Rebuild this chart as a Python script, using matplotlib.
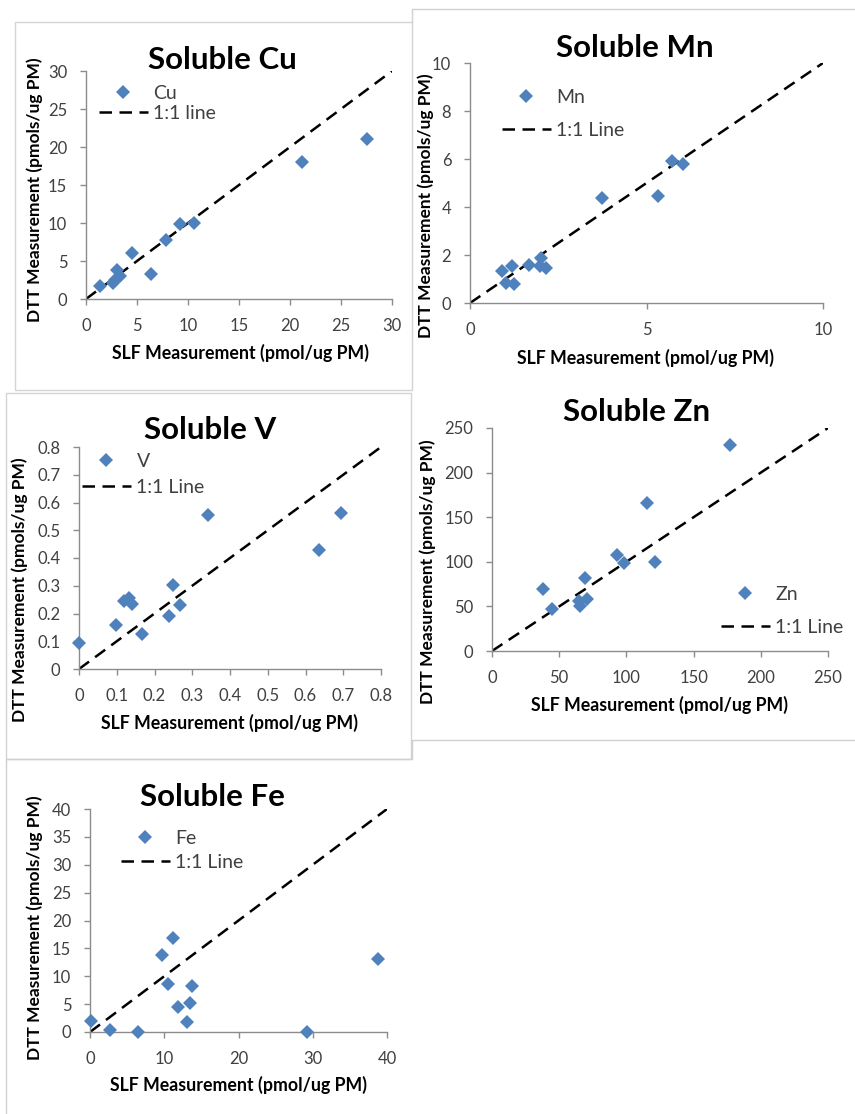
import numpy as np
import matplotlib
matplotlib.use('Agg')
import matplotlib.pyplot as plt
from matplotlib.patches import Rectangle
from matplotlib.lines import Line2D

plt.rcParams['font.family'] = ['Lato', 'DejaVu Sans']

W, H = 855, 1114

# --- data ---
cu_x = [1.4, 2.6, 2.8, 3.0, 3.3, 4.5, 6.4, 7.8, 9.2, 10.6, 21.2, 27.5]
cu_y = [1.75, 2.1, 2.5, 3.8, 3.0, 6.0, 3.3, 7.8, 9.9, 10.0, 18.0, 21.0]

mn_x = [0.92, 1.03, 1.2, 1.24, 1.67, 2.0, 1.98, 2.15, 3.75, 5.32, 5.72, 6.03]
mn_y = [1.35, 0.83, 1.53, 0.79, 1.6, 1.88, 1.53, 1.46, 4.36, 4.44, 5.93, 5.79]

v_x = [0.0, 0.097, 0.12, 0.132, 0.141, 0.166, 0.239, 0.25, 0.268, 0.343, 0.637, 0.693]
v_y = [0.093, 0.157, 0.245, 0.255, 0.234, 0.127, 0.19, 0.303, 0.229, 0.554, 0.429, 0.563]

zn_x = [37.9, 44.6, 64.4, 65.6, 69.3, 70.5, 92.8, 98.5, 115, 121, 177]
zn_y = [70, 47.6, 55.8, 50.6, 82, 58.8, 107.6, 98.2, 166, 100, 230.5]

fe_x = [0.13, 2.7, 6.5, 9.7, 10.5, 11.2, 11.8, 13.1, 13.45, 13.7, 29.2, 38.8]
fe_y = [1.98, 0.3, 0.0, 13.8, 8.6, 16.8, 4.4, 1.8, 5.2, 8.3, 0.0, 13.05]

titles = ['Soluble Cu', 'Soluble Mn', 'Soluble V', 'Soluble Zn', 'Soluble Fe']
series_names = ['Cu', 'Mn', 'V', 'Zn', 'Fe']
line_names = ['1:1 line', '1:1 Line', '1:1 Line', '1:1 Line', '1:1 Line']
axis_max = [30, 10, 0.8, 250, 40]
tick_step = [5, 5, 0.1, 50, 10]
ytick_step = [5, 2, 0.1, 50, 5]
xs = [cu_x, mn_x, v_x, zn_x, fe_x]
ys = [cu_y, mn_y, v_y, zn_y, fe_y]

xlabel = 'SLF Measurement (pmol/ug PM)'
ylabel = 'DTT Measurement (pmols/ug PM)'

# --- layout in pixels ---
# plot area: left, right, top, bottom
plot_box = [(86, 392, 71, 299), (470, 823, 63, 303), (79, 381, 447, 669),
            (492, 828, 428, 651), (90, 387, 809, 1032)]
title_pos = [(222, 60), (635, 48), (210, 430), (637, 412), (212, 797)]
ylab_pos = [(35, 190), (426, 206), (20, 590), (428, 572), (35, 928)]
xlab_pos = [(240, 353), (645, 358), (229, 723), (659, 705), (238, 1085)]
# legend: left of line handle, marker row centre, label spacing
leg_pos = [(99, 92, 0.15), (502, 96, 0.82), (82, 460, 0.46),
           (721, 593, 0.82), (121, 837, 0.36)]
frames = [(15, 22, 412, 390), (6, 393, 411, 759)]
edges = [[(412, 22), (412, 9), (860, 9)],
         [(412, 759), (412, 740), (860, 740)],
         [(6, 1120), (6, 759), (411, 759)]]

BLUE = '#4f81bd'
GRID = '#8c8c8c'
TXT = '#404040'


def fx(px):
    return px / W


def fy(py):
    return 1 - py / H


fig = plt.figure(figsize=(W / 100, H / 100), dpi=100)

for (l, t, r, b) in frames:
    fig.add_artist(Rectangle((fx(l), fy(b)), fx(r - l), (b - t) / H,
                             transform=fig.transFigure, facecolor='white',
                             edgecolor='#d4d4d4', lw=1.0, zorder=0))
for e in edges:
    fig.add_artist(Line2D([fx(p[0]) for p in e], [fy(p[1]) for p in e],
                          transform=fig.transFigure, color='#d0d0d0', lw=1.0))

for i in range(5):
    l, r, t, b = plot_box[i]
    ax = fig.add_axes([fx(l), fy(b), fx(r - l), (b - t) / H])
    ax.patch.set_alpha(0)
    m = axis_max[i]
    ln, = ax.plot([0, m], [0, m], color='black', lw=1.8, dashes=(5, 3),
                  label=line_names[i], zorder=2)
    pts, = ax.plot(xs[i], ys[i], 'D', color=BLUE, ms=7.5, mew=0,
                   label=series_names[i], zorder=3, clip_on=False)
    ax.set_xlim(0, m)
    ax.set_ylim(0, m)
    ax.set_xticks(np.arange(0, m + tick_step[i] / 2, tick_step[i]))
    ax.set_yticks(np.arange(0, m + ytick_step[i] / 2, ytick_step[i]))
    if i == 2:
        ax.set_xticklabels(['0'] + ['%.1f' % v for v in np.arange(0.1, 0.85, 0.1)])
        ax.set_yticklabels(['0'] + ['%.1f' % v for v in np.arange(0.1, 0.85, 0.1)])
    for s in ['top', 'right']:
        ax.spines[s].set_visible(False)
    for s in ['left', 'bottom']:
        ax.spines[s].set_color(GRID)
        ax.spines[s].set_linewidth(1.0)
    ax.tick_params(direction='out', length=4.5, width=1, color=GRID,
                   labelsize=12, labelcolor=TXT, pad=9)

    lx, ly, sp = leg_pos[i]
    ax.legend(handles=[pts, ln], loc='upper left',
              bbox_to_anchor=(fx(lx), fy(ly - 7)), bbox_transform=fig.transFigure,
              frameon=False, borderpad=0, borderaxespad=0, fontsize=14,
              handlelength=2.5, handletextpad=0.3, labelspacing=sp,
              markerscale=0.9, labelcolor=TXT)

    tx, ty = title_pos[i]
    fig.text(fx(tx), fy(ty), titles[i], ha='center', va='center',
             fontsize=22.5, fontweight='bold')
    yx, yy = ylab_pos[i]
    fig.text(fx(yx), fy(yy), ylabel, ha='center', va='center', rotation=90,
             fontsize=12.5, fontweight='bold')
    xx, xy = xlab_pos[i]
    fig.text(fx(xx), fy(xy), xlabel, ha='center', va='center',
             fontsize=12.8, fontweight='bold')

fig.savefig('out.png', dpi=100)
